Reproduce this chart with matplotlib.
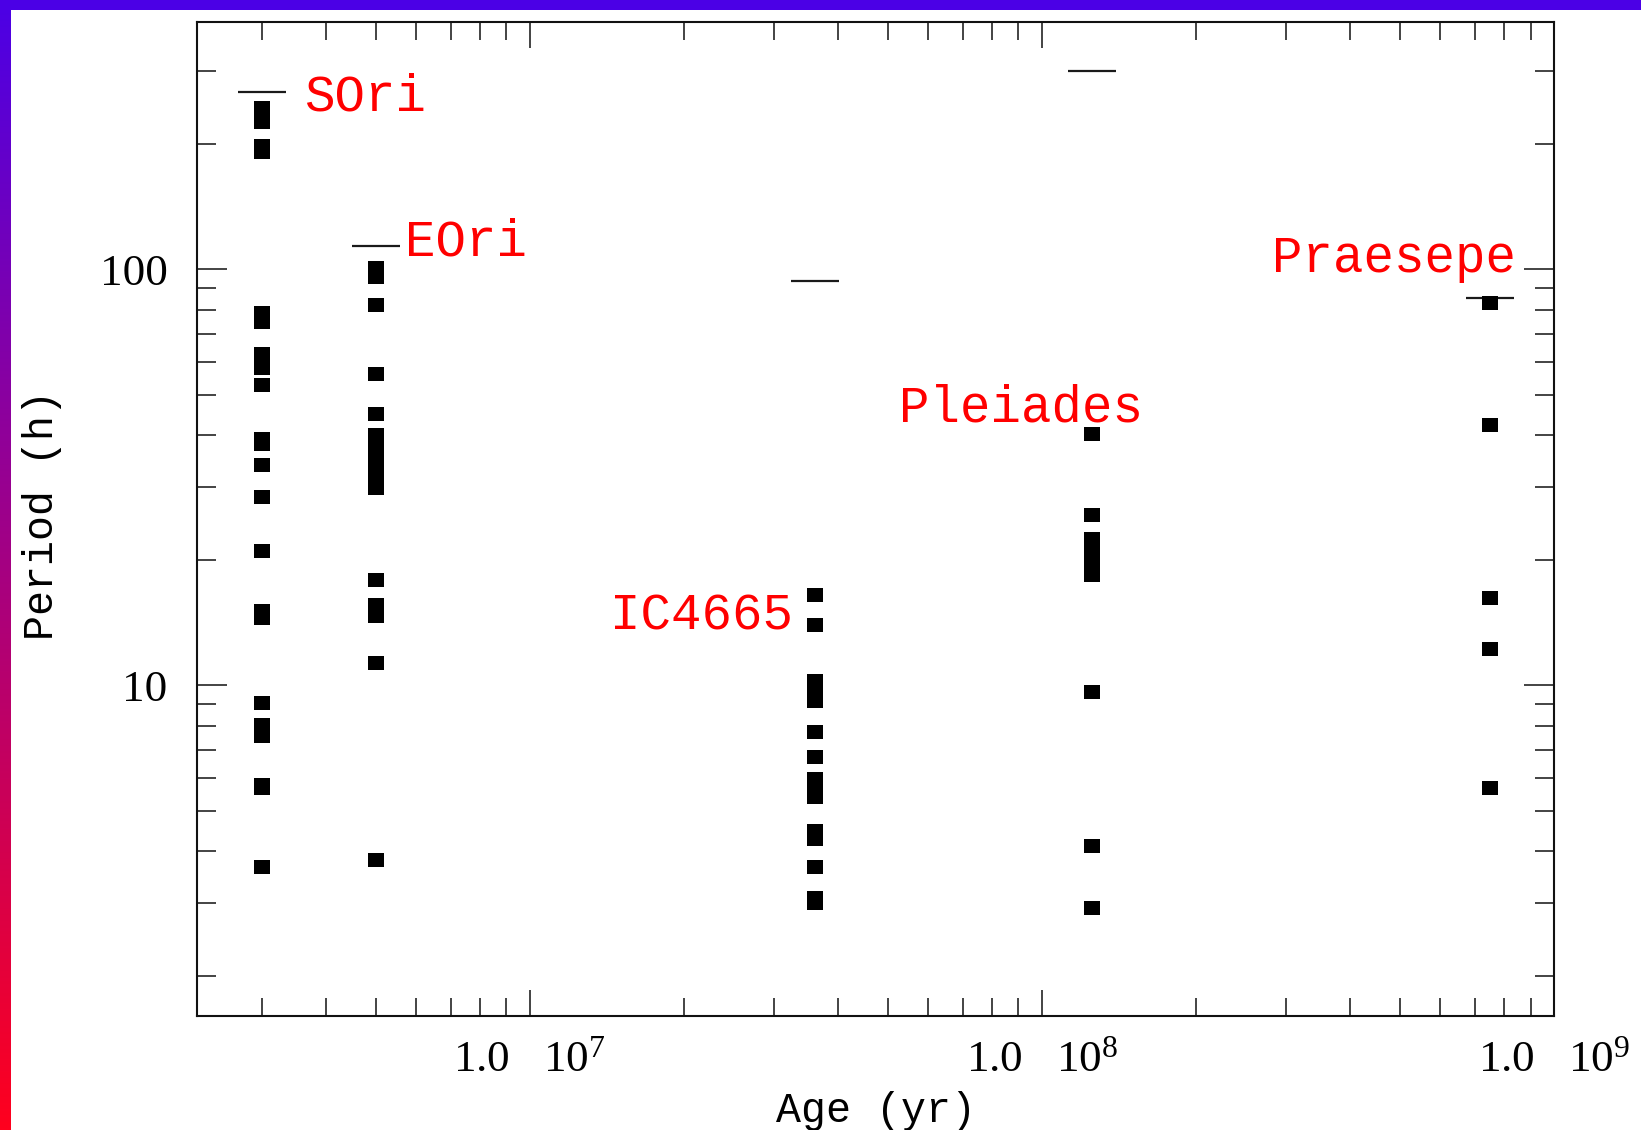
import numpy as np
import matplotlib
matplotlib.use("Agg")
import matplotlib.pyplot as plt
from matplotlib.path import Path
from matplotlib.patches import Rectangle
from matplotlib.ticker import FixedLocator, FixedFormatter, NullFormatter

plt.rcParams["mathtext.fontset"] = "custom"
plt.rcParams["mathtext.rm"] = "Liberation Serif"

# ---- data -------------------------------------------------------------
cluster_names = ["SOri", "EOri", "IC4665", "Pleiades", "Praesepe"]
cluster_ages = [3.0e6, 5.0e6, 3.6e7, 1.25e8, 7.5e8]          # yr

sori_periods = [244, 226, 198, 192, 78.5, 74.7, 62.5, 57.9, 52.7, 39.0, 38.0,
                33.9, 28.4, 21.0, 15.1, 14.5, 9.07, 8.05, 7.55, 5.76, 5.65, 3.65]
eori_periods = [101, 95.8, 82.2, 55.9, 44.9, 40.0, 37.6, 35.4, 33.3, 31.5,
                29.8, 17.9, 15.6, 14.7, 11.3, 3.81]
ic4665_periods = [16.5, 14.0, 10.24, 9.69, 9.17, 7.71, 6.72, 5.95, 5.63, 5.39,
                  4.46, 4.28, 3.65, 3.08, 3.0]
pleiades_periods = [40.2, 25.7, 22.5, 21.1, 19.7, 18.4, 9.63, 4.10, 2.92]
praesepe_periods = [83.2, 42.2, 16.2, 12.2, 5.66]

# upper period limit drawn above each cluster (h)
limit_periods = [267, 114, 94, 300, 85.4]

y_major = [10, 100]
y_major_labels = ["10", "100"]
y_minor = [2, 3, 4, 5, 6, 7, 8, 9, 20, 30, 40, 50, 60, 70, 80, 90, 200, 300]
x_major = [1e7, 1e8, 1e9]
x_major_labels = [r"1.0   $\mathregular{10^{7}}$",
                  r"1.0   $\mathregular{10^{8}}$",
                  r"1.0   $\mathregular{10^{9}}$"]
x_minor = [3e6, 4e6, 5e6, 6e6, 7e6, 8e6, 9e6,
           2e7, 3e7, 4e7, 5e7, 6e7, 7e7, 8e7, 9e7,
           2e8, 3e8, 4e8, 5e8, 6e8, 7e8, 8e8, 9e8]

# ---- figure -----------------------------------------------------------
W, H = 1641, 1130
fig = plt.figure(figsize=(W / 100, H / 100), dpi=100)
fig.patch.set_facecolor("white")

ax = fig.add_axes([196.7 / W, (H - 1015.7) / H, (1554 - 196.7) / W, (1015.7 - 21.7) / H])
ax.set_xscale("log")
ax.set_yscale("log")
ax.set_xlim(2.236e6, 1e9)
ax.set_ylim(1.606, 394)

# slightly wide rectangular marker
rect = Path([(-0.5, -0.45), (0.5, -0.45), (0.5, 0.45), (-0.5, 0.45), (-0.5, -0.45)],
            [Path.MOVETO, Path.LINETO, Path.LINETO, Path.LINETO, Path.CLOSEPOLY])

all_periods = [sori_periods, eori_periods, ic4665_periods, pleiades_periods, praesepe_periods]

for age, lim in zip(cluster_ages, limit_periods):
    ax.plot([age], [lim], marker="_", markersize=35, markeredgewidth=1.6,
            color="#1a1a1a", linestyle="none", zorder=2)

for age, periods in zip(cluster_ages, all_periods):
    ax.plot([age] * len(periods), periods, marker=rect, markersize=11,
            markeredgewidth=0, color="black", linestyle="none", zorder=3)

# cluster names
name_pos = [
    (3.62e6, 241.6, "left"),
    (5.71e6, 108.2, "left"),
    (3.26e7, 13.65, "right"),
    (5.25e7, 43.2, "left"),
    (2.82e8, 98.7, "left"),
]
for name, (x, y, ha) in zip(cluster_names, name_pos):
    ax.text(x, y, name, color="red", fontsize=36.5, family="Liberation Mono",
            ha=ha, va="baseline", zorder=4)

# axes styling
for sp in ax.spines.values():
    sp.set_linewidth(1.5)
    sp.set_color("#111111")

ax.xaxis.set_major_locator(FixedLocator(x_major))
ax.xaxis.set_major_formatter(FixedFormatter(x_major_labels))
ax.xaxis.set_minor_locator(FixedLocator(x_minor))
ax.xaxis.set_minor_formatter(NullFormatter())
ax.yaxis.set_major_locator(FixedLocator(y_major))
ax.yaxis.set_major_formatter(FixedFormatter(y_major_labels))
ax.yaxis.set_minor_locator(FixedLocator(y_minor))
ax.yaxis.set_minor_formatter(NullFormatter())

ax.tick_params(which="both", direction="in", top=True, right=True,
               width=1.1, color="#111111")
ax.tick_params(axis="x", which="major", length=19, pad=18)
ax.tick_params(axis="x", which="minor", length=13)
ax.tick_params(axis="y", which="major", length=21.5, pad=21)
ax.tick_params(axis="y", which="minor", length=13.5)
for lab in ax.get_xticklabels() + ax.get_yticklabels():
    lab.set_fontfamily("Liberation Serif")
    lab.set_fontsize(32.5)
    lab.set_color("black")

fig.text(42 / W, (H - 515) / H, "Period (h)", rotation=90, ha="center", va="center",
         fontsize=30, family="Liberation Mono", color="black")
fig.text(876 / W, (H - 1122) / H, "Age (yr)", ha="center", va="baseline",
         fontsize=30, family="Liberation Mono", color="black")

# frame: solid top bar and vertical blue-to-red strip on the left
top_rgb = np.array([75, 0, 230]) / 255
bot_rgb = np.array([255, 0, 30]) / 255
t = np.linspace(0, 1, 256)[:, None, None]
grad = top_rgb[None, None, :] * (1 - t) + bot_rgb[None, None, :] * t
gax = fig.add_axes([0, 0, 11 / W, 1])
gax.imshow(grad, aspect="auto", interpolation="bilinear")
gax.set_axis_off()
fig.add_artist(Rectangle((0, 1 - 10 / H), 1, 10 / H, transform=fig.transFigure,
                         facecolor=top_rgb, edgecolor="none", zorder=10))

fig.savefig("out.png", dpi=100, facecolor="white")
